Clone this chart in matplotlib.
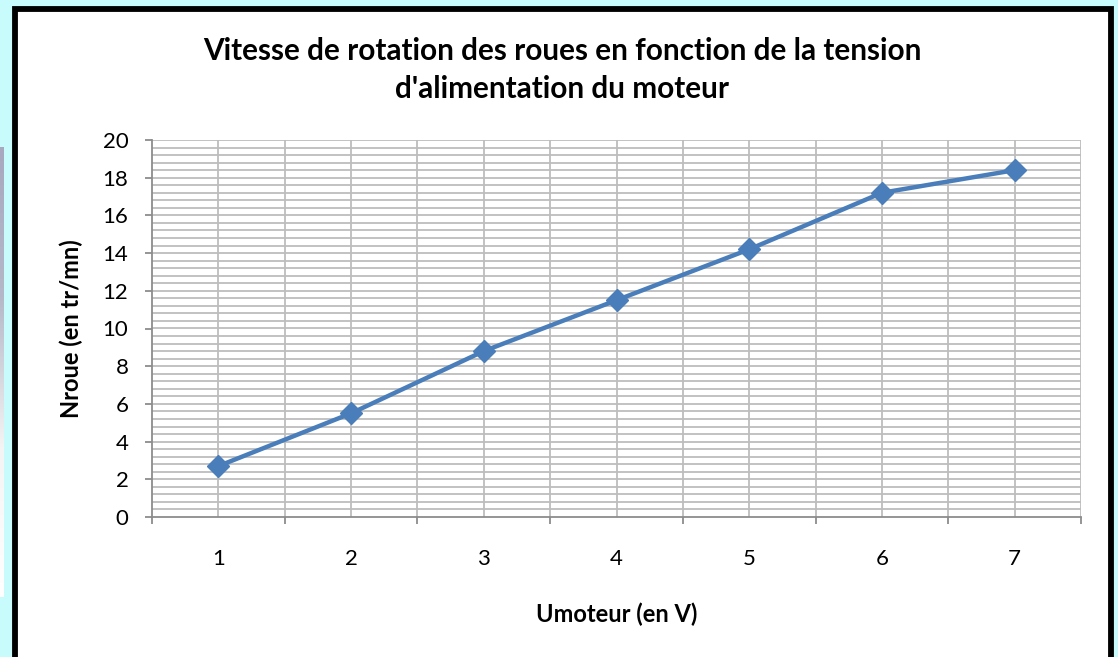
import matplotlib
matplotlib.use("Agg")
import matplotlib.pyplot as plt
import numpy as np
from matplotlib.patches import Rectangle

# Data
categories = ["1", "2", "3", "4", "5", "6", "7"]
n_roue = [2.7, 5.5, 8.8, 11.5, 14.2, 17.2, 18.4]
title = "Vitesse de rotation des roues en fonction de la tension\nd'alimentation du moteur"
xlabel = "Umoteur (en V)"
ylabel = "Nroue (en tr/mn)"

W, H = 1118, 657
plt.rcParams['font.family'] = ['Lato', 'DejaVu Sans']
fig = plt.figure(figsize=(W / 100, H / 100), dpi=100)
fig.patch.set_facecolor('#c8fcfc')

def fx(px):
    return px / W

def fy(py):
    return 1 - py / H

# gray strip at far left (gradient)
grad = np.linspace(0, 1, 256).reshape(-1, 1)
gax = fig.add_axes([0, fy(597), fx(4), (597 - 147) / H], zorder=-5)
gax.imshow(grad, aspect='auto', cmap=matplotlib.colors.LinearSegmentedColormap.from_list(
    'g', ['#a8a8c0', '#b4b8c8', '#f4f4f4', '#ffffff']), origin='upper')
gax.axis('off')

# white panel with black border
panel = Rectangle((fx(14.5), fy(680)), fx(1110.5 - 14.5), (680 - 8.5) / H,
                  transform=fig.transFigure, facecolor='white', edgecolor='black',
                  linewidth=4.2, zorder=-10)
fig.patches.append(panel)

ax = fig.add_axes([fx(152), fy(517), fx(1081 - 152), (517 - 140) / H], zorder=1)
ax.set_facecolor('none')
x = np.arange(len(categories))
ax.set_xlim(-0.5, len(categories) - 0.5)
ax.set_ylim(0, 20)

grid_c = '#bdbdbd'
for yv in np.arange(0.4, 20.01, 0.4):
    ax.axhline(yv, color=grid_c, lw=1.3, zorder=1)
for xv in np.arange(0, len(categories) + 0.01, 0.5) - 0.5:
    if xv > -0.5:
        ax.axvline(xv, color=grid_c, lw=1.3, zorder=1)

ax.plot(x, n_roue, color='#4a7ebb', lw=3.2, marker='D', markersize=11,
        markerfacecolor='#4a7ebb', markeredgecolor='#4a7ebb', zorder=3, clip_on=False)

for s in ['top', 'right']:
    ax.spines[s].set_visible(False)
for s in ['left', 'bottom']:
    ax.spines[s].set_color('#8c8c8c')
    ax.spines[s].set_linewidth(1.3)

ax.set_yticks(np.arange(0, 21, 2))
ax.set_xticks(x)
ax.set_xticklabels(categories)
ax.set_xticks(np.arange(-0.5, len(categories), 1.0), minor=True)
ax.tick_params(axis='y', which='major', direction='out', length=5, width=1.3,
               color='#8c8c8c', labelsize=16, pad=12)
ax.tick_params(axis='x', which='major', length=0, labelsize=16, pad=23)
ax.tick_params(axis='x', which='minor', direction='out', length=5, width=1.3, color='#8c8c8c')
ax.tick_params(axis='y', which='minor', left=False)

ax.set_xlabel(xlabel, fontsize=17, fontweight='bold', labelpad=24)
ax.set_ylabel(ylabel, fontsize=17, fontweight='bold', labelpad=14)

fig.text(fx(562), fy(70), title, ha='center', va='center', fontsize=21.4,
         fontweight='bold', linespacing=1.45)

fig.savefig('out.png', dpi=100, facecolor=fig.get_facecolor())
